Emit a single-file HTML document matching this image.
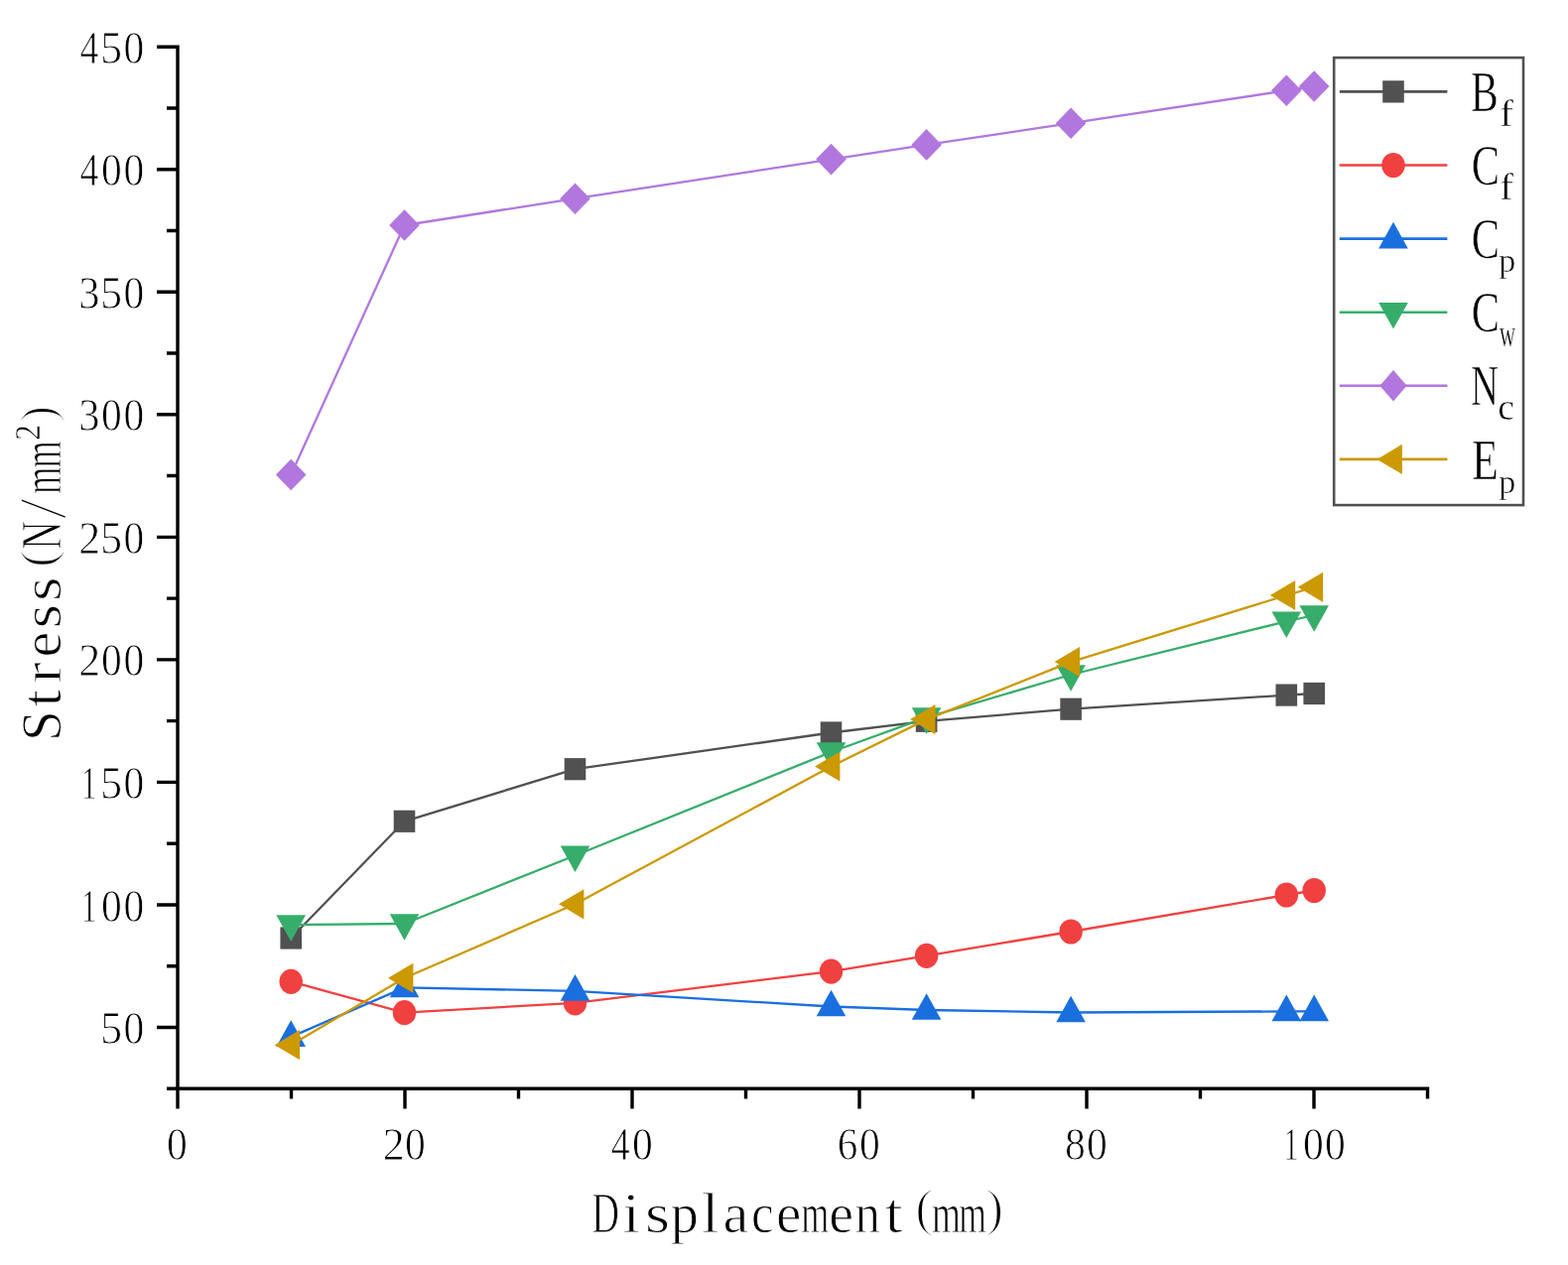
<!DOCTYPE html>
<html><head><meta charset="utf-8"><title>Stress vs Displacement</title>
<style>html,body{margin:0;padding:0;background:#fff;}svg{display:block;}text{font-family:"Liberation Serif","Noto Serif CJK SC",serif;fill:#000;stroke:#fff;stroke-width:1.0px;}text.d{stroke-width:0.8px;}text.L{stroke-width:0.6px;}tspan.s{stroke-width:0.5px;}tspan.p{stroke-width:1.7px;}</style>
</head><body>
<svg width="1580" height="1275" viewBox="0 0 1580 1275">
<rect x="0" y="0" width="1580" height="1275" fill="#fff"/>
<path d="M179 45.48V1117.57M168 1097.27H1440.2M158 1035.5H179M158 911.96H179M158 788.42H179M158 664.88H179M158 541.34H179M158 417.8H179M158 294.26H179M158 170.72H179M158 47.18H179M168 973.73H179M168 850.19H179M168 726.65H179M168 603.11H179M168 479.57H179M168 356.03H179M168 232.49H179M168 108.95H179M408 1097.27V1117.57M637 1097.27V1117.57M866 1097.27V1117.57M1095 1097.27V1117.57M1324 1097.27V1117.57M293.5 1097.27V1107.57M522.5 1097.27V1107.57M751.5 1097.27V1107.57M980.5 1097.27V1107.57M1209.5 1097.27V1107.57M1438.5 1097.27V1107.57" fill="none" stroke="#000" stroke-width="3.4" stroke-linecap="butt"/>
<text class="d"><tspan x="101.16" y="1052.1" font-size="45.5" textLength="21.85" lengthAdjust="spacingAndGlyphs">5</tspan><tspan x="124.62" y="1052.1" font-size="45.5" textLength="20.76" lengthAdjust="spacingAndGlyphs">0</tspan></text>
<text class="d"><tspan x="82.13" y="928.56" font-size="45.5" textLength="14.91" lengthAdjust="spacingAndGlyphs">1</tspan><tspan x="102.12" y="928.56" font-size="45.5" textLength="20.76" lengthAdjust="spacingAndGlyphs">0</tspan><tspan x="124.62" y="928.56" font-size="45.5" textLength="20.76" lengthAdjust="spacingAndGlyphs">0</tspan></text>
<text class="d"><tspan x="82.13" y="805.02" font-size="45.5" textLength="14.91" lengthAdjust="spacingAndGlyphs">1</tspan><tspan x="101.16" y="805.02" font-size="45.5" textLength="21.85" lengthAdjust="spacingAndGlyphs">5</tspan><tspan x="124.62" y="805.02" font-size="45.5" textLength="20.76" lengthAdjust="spacingAndGlyphs">0</tspan></text>
<text class="d"><tspan x="79.27" y="681.48" font-size="45.5" textLength="21.95" lengthAdjust="spacingAndGlyphs">2</tspan><tspan x="102.12" y="681.48" font-size="45.5" textLength="20.76" lengthAdjust="spacingAndGlyphs">0</tspan><tspan x="124.62" y="681.48" font-size="45.5" textLength="20.76" lengthAdjust="spacingAndGlyphs">0</tspan></text>
<text class="d"><tspan x="79.27" y="557.94" font-size="45.5" textLength="21.95" lengthAdjust="spacingAndGlyphs">2</tspan><tspan x="101.16" y="557.94" font-size="45.5" textLength="21.85" lengthAdjust="spacingAndGlyphs">5</tspan><tspan x="124.62" y="557.94" font-size="45.5" textLength="20.76" lengthAdjust="spacingAndGlyphs">0</tspan></text>
<text class="d"><tspan x="79.16" y="434.4" font-size="45.5" textLength="21.3" lengthAdjust="spacingAndGlyphs">3</tspan><tspan x="102.12" y="434.4" font-size="45.5" textLength="20.76" lengthAdjust="spacingAndGlyphs">0</tspan><tspan x="124.62" y="434.4" font-size="45.5" textLength="20.76" lengthAdjust="spacingAndGlyphs">0</tspan></text>
<text class="d"><tspan x="79.16" y="310.86" font-size="45.5" textLength="21.3" lengthAdjust="spacingAndGlyphs">3</tspan><tspan x="101.16" y="310.86" font-size="45.5" textLength="21.85" lengthAdjust="spacingAndGlyphs">5</tspan><tspan x="124.62" y="310.86" font-size="45.5" textLength="20.76" lengthAdjust="spacingAndGlyphs">0</tspan></text>
<text class="d"><tspan x="80.46" y="187.32" font-size="45.5" textLength="18.93" lengthAdjust="spacingAndGlyphs">4</tspan><tspan x="102.12" y="187.32" font-size="45.5" textLength="20.76" lengthAdjust="spacingAndGlyphs">0</tspan><tspan x="124.62" y="187.32" font-size="45.5" textLength="20.76" lengthAdjust="spacingAndGlyphs">0</tspan></text>
<text class="d"><tspan x="80.46" y="63.78" font-size="45.5" textLength="18.93" lengthAdjust="spacingAndGlyphs">4</tspan><tspan x="101.16" y="63.78" font-size="45.5" textLength="21.85" lengthAdjust="spacingAndGlyphs">5</tspan><tspan x="124.62" y="63.78" font-size="45.5" textLength="20.76" lengthAdjust="spacingAndGlyphs">0</tspan></text>
<text class="d"><tspan x="168.02" y="1169.3" font-size="45.5" textLength="20.76" lengthAdjust="spacingAndGlyphs">0</tspan></text>
<text class="d"><tspan x="385.67" y="1169.3" font-size="45.5" textLength="21.95" lengthAdjust="spacingAndGlyphs">2</tspan><tspan x="408.02" y="1169.3" font-size="45.5" textLength="20.76" lengthAdjust="spacingAndGlyphs">0</tspan></text>
<text class="d"><tspan x="615.86" y="1169.3" font-size="45.5" textLength="18.93" lengthAdjust="spacingAndGlyphs">4</tspan><tspan x="637.02" y="1169.3" font-size="45.5" textLength="20.76" lengthAdjust="spacingAndGlyphs">0</tspan></text>
<text class="d"><tspan x="843.83" y="1169.3" font-size="45.5" textLength="20.6" lengthAdjust="spacingAndGlyphs">6</tspan><tspan x="866.02" y="1169.3" font-size="45.5" textLength="20.76" lengthAdjust="spacingAndGlyphs">0</tspan></text>
<text class="d"><tspan x="1073.02" y="1169.3" font-size="45.5" textLength="20.76" lengthAdjust="spacingAndGlyphs">8</tspan><tspan x="1095.02" y="1169.3" font-size="45.5" textLength="20.76" lengthAdjust="spacingAndGlyphs">0</tspan></text>
<text class="d"><tspan x="1293.53" y="1169.3" font-size="45.5" textLength="14.91" lengthAdjust="spacingAndGlyphs">1</tspan><tspan x="1313.02" y="1169.3" font-size="45.5" textLength="20.76" lengthAdjust="spacingAndGlyphs">0</tspan><tspan x="1335.02" y="1169.3" font-size="45.5" textLength="20.76" lengthAdjust="spacingAndGlyphs">0</tspan></text>
<text><tspan x="596.14" y="1241.5" font-size="57.4" textLength="27.75" lengthAdjust="spacingAndGlyphs">D</tspan><tspan x="627.26" y="1241.5" font-size="57.4" textLength="17.86" lengthAdjust="spacingAndGlyphs">i</tspan><tspan x="650.03" y="1241.5" font-size="57.4" textLength="25.02" lengthAdjust="spacingAndGlyphs">s</tspan><tspan x="675.69" y="1241.5" font-size="57.4" textLength="28.21" lengthAdjust="spacingAndGlyphs">p</tspan><tspan x="706.67" y="1241.5" font-size="57.4" textLength="17.86" lengthAdjust="spacingAndGlyphs">l</tspan><tspan x="728.5" y="1241.5" font-size="57.4" textLength="25.84" lengthAdjust="spacingAndGlyphs">a</tspan><tspan x="756.95" y="1241.5" font-size="57.4" textLength="22.72" lengthAdjust="spacingAndGlyphs">c</tspan><tspan x="782.11" y="1241.5" font-size="57.4" textLength="25.42" lengthAdjust="spacingAndGlyphs">e</tspan><tspan x="807.24" y="1241.5" font-size="57.4" textLength="28.12" lengthAdjust="spacingAndGlyphs">m</tspan><tspan x="835.32" y="1241.5" font-size="57.4" textLength="24.82" lengthAdjust="spacingAndGlyphs">e</tspan><tspan x="861.38" y="1241.5" font-size="57.4" textLength="25.44" lengthAdjust="spacingAndGlyphs">n</tspan><tspan x="891.69" y="1241.5" font-size="57.4" textLength="17.86" lengthAdjust="spacingAndGlyphs">t</tspan><tspan class="p" x="921.97" y="1234.7" font-size="52.1" textLength="18.8" lengthAdjust="spacingAndGlyphs">(</tspan><tspan x="939.07" y="1241.5" font-size="57.4" textLength="28.96" lengthAdjust="spacingAndGlyphs">m</tspan><tspan x="966.21" y="1241.5" font-size="57.4" textLength="27.6" lengthAdjust="spacingAndGlyphs">m</tspan><tspan class="p" x="992.74" y="1234.7" font-size="52.1" textLength="18.67" lengthAdjust="spacingAndGlyphs">)</tspan></text>
<text transform="rotate(-90)"><tspan x="-747" y="61.3" font-size="56.3" textLength="30.72" lengthAdjust="spacingAndGlyphs">S</tspan><tspan x="-712.48" y="61.3" font-size="56.3" textLength="17.52" lengthAdjust="spacingAndGlyphs">t</tspan><tspan x="-688.45" y="61.3" font-size="56.3" textLength="21" lengthAdjust="spacingAndGlyphs">r</tspan><tspan x="-662.48" y="61.3" font-size="56.3" textLength="25.9" lengthAdjust="spacingAndGlyphs">e</tspan><tspan x="-633.62" y="61.3" font-size="56.3" textLength="24.54" lengthAdjust="spacingAndGlyphs">s</tspan><tspan x="-606.02" y="61.3" font-size="56.3" textLength="24.54" lengthAdjust="spacingAndGlyphs">s</tspan><tspan class="p" x="-572.19" y="54.9" font-size="50.2" textLength="18.72" lengthAdjust="spacingAndGlyphs">(</tspan><tspan x="-553.74" y="61.3" font-size="56.3" textLength="28.65" lengthAdjust="spacingAndGlyphs">N</tspan><tspan class="p" x="-523.18" y="65" font-size="68" textLength="21.16" lengthAdjust="spacingAndGlyphs">/</tspan><tspan x="-497.83" y="61.3" font-size="56.3" textLength="27.07" lengthAdjust="spacingAndGlyphs">m</tspan><tspan x="-471.43" y="61.3" font-size="56.3" textLength="27.07" lengthAdjust="spacingAndGlyphs">m</tspan><tspan class="s" x="-443.78" y="39.8" font-size="35" textLength="15.72" lengthAdjust="spacingAndGlyphs">2</tspan><tspan class="p" x="-426.02" y="54.9" font-size="50.2" textLength="17.24" lengthAdjust="spacingAndGlyphs">)</tspan></text>
<g>
<polyline points="293.2,945.5 407.5,827.8 579.5,775.2 837.5,738.5 933.6,726.8 1079.1,714.7 1296.3,700.6 1324.2,699" fill="none" stroke="#515151" stroke-width="2.3" stroke-linejoin="round"/>
<rect x="282.4" y="934.4" width="21.6" height="22.2" fill="#515151"/>
<rect x="396.7" y="816.7" width="21.6" height="22.2" fill="#515151"/>
<rect x="568.7" y="764.1" width="21.6" height="22.2" fill="#515151"/>
<rect x="826.7" y="727.4" width="21.6" height="22.2" fill="#515151"/>
<rect x="922.8" y="715.7" width="21.6" height="22.2" fill="#515151"/>
<rect x="1068.3" y="703.6" width="21.6" height="22.2" fill="#515151"/>
<rect x="1285.5" y="689.5" width="21.6" height="22.2" fill="#515151"/>
<rect x="1313.4" y="687.9" width="21.6" height="22.2" fill="#515151"/>
</g>
<g>
<polyline points="293.2,989.3 407.5,1020.7 579.5,1010.8 837.5,979.1 933.6,963.3 1079.1,939 1296.3,902 1324.2,897.5" fill="none" stroke="#F14040" stroke-width="2.3" stroke-linejoin="round"/>
<ellipse cx="293.2" cy="989.3" rx="11.7" ry="12.6" fill="#F14040"/>
<ellipse cx="407.5" cy="1020.7" rx="11.7" ry="12.6" fill="#F14040"/>
<ellipse cx="579.5" cy="1010.8" rx="11.7" ry="12.6" fill="#F14040"/>
<ellipse cx="837.5" cy="979.1" rx="11.7" ry="12.6" fill="#F14040"/>
<ellipse cx="933.6" cy="963.3" rx="11.7" ry="12.6" fill="#F14040"/>
<ellipse cx="1079.1" cy="939" rx="11.7" ry="12.6" fill="#F14040"/>
<ellipse cx="1296.3" cy="902" rx="11.7" ry="12.6" fill="#F14040"/>
<ellipse cx="1324.2" cy="897.5" rx="11.7" ry="12.6" fill="#F14040"/>
</g>
<g>
<polyline points="293.2,1045.1 407.5,995.4 579.5,998.9 837.5,1014.5 933.6,1018 1079.1,1020.5 1296.3,1019.4 1324.2,1019.4" fill="none" stroke="#1A6FDF" stroke-width="2.3" stroke-linejoin="round"/>
<path d="M293.2 1028.3L308 1054.9L278.4 1054.9Z" fill="#1A6FDF"/>
<path d="M407.5 978.6L422.3 1005.2L392.7 1005.2Z" fill="#1A6FDF"/>
<path d="M579.5 982.1L594.3 1008.7L564.7 1008.7Z" fill="#1A6FDF"/>
<path d="M837.5 997.7L852.3 1024.3L822.7 1024.3Z" fill="#1A6FDF"/>
<path d="M933.6 1001.2L948.4 1027.8L918.8 1027.8Z" fill="#1A6FDF"/>
<path d="M1079.1 1003.7L1093.9 1030.3L1064.3 1030.3Z" fill="#1A6FDF"/>
<path d="M1296.3 1002.6L1311.1 1029.2L1281.5 1029.2Z" fill="#1A6FDF"/>
<path d="M1324.2 1002.6L1339 1029.2L1309.4 1029.2Z" fill="#1A6FDF"/>
</g>
<g>
<polyline points="293.2,932.1 407.5,931 579.5,862.3 837.5,758 933.6,723.1 1079.1,680 1296.3,626.3 1324.2,620" fill="none" stroke="#37AD6B" stroke-width="2.3" stroke-linejoin="round"/>
<path d="M293.2 948.9L308 922.3L278.4 922.3Z" fill="#37AD6B"/>
<path d="M407.5 947.8L422.3 921.2L392.7 921.2Z" fill="#37AD6B"/>
<path d="M579.5 879.1L594.3 852.5L564.7 852.5Z" fill="#37AD6B"/>
<path d="M837.5 774.8L852.3 748.2L822.7 748.2Z" fill="#37AD6B"/>
<path d="M933.6 739.9L948.4 713.3L918.8 713.3Z" fill="#37AD6B"/>
<path d="M1079.1 696.8L1093.9 670.2L1064.3 670.2Z" fill="#37AD6B"/>
<path d="M1296.3 643.1L1311.1 616.5L1281.5 616.5Z" fill="#37AD6B"/>
<path d="M1324.2 636.8L1339 610.2L1309.4 610.2Z" fill="#37AD6B"/>
</g>
<g>
<polyline points="293.2,478.5 407.5,227 579.5,200.2 837.5,160.6 933.6,145.9 1079.1,124.2 1296.3,91.3 1324.2,87" fill="none" stroke="#B177DE" stroke-width="2.3" stroke-linejoin="round"/>
<path d="M293.2 462.7L308.5 478.5L293.2 494.3L277.9 478.5Z" fill="#B177DE"/>
<path d="M407.5 211.2L422.8 227L407.5 242.8L392.2 227Z" fill="#B177DE"/>
<path d="M579.5 184.4L594.8 200.2L579.5 216L564.2 200.2Z" fill="#B177DE"/>
<path d="M837.5 144.8L852.8 160.6L837.5 176.4L822.2 160.6Z" fill="#B177DE"/>
<path d="M933.6 130.1L948.9 145.9L933.6 161.7L918.3 145.9Z" fill="#B177DE"/>
<path d="M1079.1 108.4L1094.4 124.2L1079.1 140L1063.8 124.2Z" fill="#B177DE"/>
<path d="M1296.3 75.5L1311.6 91.3L1296.3 107.1L1281 91.3Z" fill="#B177DE"/>
<path d="M1324.2 71.2L1339.5 87L1324.2 102.8L1308.9 87Z" fill="#B177DE"/>
</g>
<g>
<polyline points="293.2,1053.2 407.5,985.8 579.5,911.3 837.5,772.5 933.6,725.1 1079.1,667.1 1296.3,600 1324.2,591.8" fill="none" stroke="#CC9900" stroke-width="2.3" stroke-linejoin="round"/>
<path d="M276.7 1053.2L302.1 1038.1L302.1 1068.3Z" fill="#CC9900"/>
<path d="M391 985.8L416.4 970.7L416.4 1000.9Z" fill="#CC9900"/>
<path d="M563 911.3L588.4 896.2L588.4 926.4Z" fill="#CC9900"/>
<path d="M821 772.5L846.4 757.4L846.4 787.6Z" fill="#CC9900"/>
<path d="M917.1 725.1L942.5 710L942.5 740.2Z" fill="#CC9900"/>
<path d="M1062.6 667.1L1088 652L1088 682.2Z" fill="#CC9900"/>
<path d="M1279.8 600L1305.2 584.9L1305.2 615.1Z" fill="#CC9900"/>
<path d="M1307.7 591.8L1333.1 576.7L1333.1 606.9Z" fill="#CC9900"/>
</g>
<rect x="1344.2" y="58.1" width="190.8" height="451" fill="none" stroke="#505050" stroke-width="2.6"/>
<path d="M1349.8 92.4H1458.4" stroke="#515151" stroke-width="2.6"/>
<rect x="1393.2" y="81.3" width="21.6" height="22.2" fill="#515151"/>
<text class="L"><tspan x="1482" y="112" font-size="57.5" textLength="27.73" lengthAdjust="spacingAndGlyphs">B</tspan><tspan class="s" x="1511.04" y="127" font-size="37.6" textLength="14.02" lengthAdjust="spacingAndGlyphs">f</tspan></text>
<path d="M1349.8 166.5H1458.4" stroke="#F14040" stroke-width="2.6"/>
<ellipse cx="1404" cy="166.5" rx="11.7" ry="12.6" fill="#F14040"/>
<text class="L"><tspan x="1482.76" y="186.1" font-size="57.5" textLength="28.28" lengthAdjust="spacingAndGlyphs">C</tspan><tspan class="s" x="1511.04" y="201.1" font-size="37.6" textLength="14.02" lengthAdjust="spacingAndGlyphs">f</tspan></text>
<path d="M1349.8 240.6H1458.4" stroke="#1A6FDF" stroke-width="2.6"/>
<path d="M1404 223.8L1418.8 250.4L1389.2 250.4Z" fill="#1A6FDF"/>
<text class="L"><tspan x="1482.76" y="260.2" font-size="57.5" textLength="28.28" lengthAdjust="spacingAndGlyphs">C</tspan><tspan class="s" x="1510.25" y="274.2" font-size="34" textLength="17.09" lengthAdjust="spacingAndGlyphs">p</tspan></text>
<path d="M1349.8 314.7H1458.4" stroke="#37AD6B" stroke-width="2.6"/>
<path d="M1404 331.5L1418.8 304.9L1389.2 304.9Z" fill="#37AD6B"/>
<text class="L"><tspan x="1482.76" y="334.3" font-size="57.5" textLength="28.28" lengthAdjust="spacingAndGlyphs">C</tspan><tspan class="s" x="1510.78" y="349.3" font-size="38" textLength="16.42" lengthAdjust="spacingAndGlyphs">w</tspan></text>
<path d="M1349.8 388.8H1458.4" stroke="#B177DE" stroke-width="2.6"/>
<path d="M1404 373L1417.6 388.8L1404 404.6L1390.4 388.8Z" fill="#B177DE"/>
<text class="L"><tspan x="1481.88" y="408.4" font-size="57.5" textLength="28.01" lengthAdjust="spacingAndGlyphs">N</tspan><tspan class="s" x="1509.37" y="423.4" font-size="38" textLength="16.69" lengthAdjust="spacingAndGlyphs">c</tspan></text>
<path d="M1349.8 462.9H1458.4" stroke="#CC9900" stroke-width="2.6"/>
<path d="M1387.5 462.9L1412.9 447.8L1412.9 478Z" fill="#CC9900"/>
<text class="L"><tspan x="1483.03" y="482.5" font-size="57.5" textLength="26.86" lengthAdjust="spacingAndGlyphs">E</tspan><tspan class="s" x="1510.25" y="496.5" font-size="34" textLength="17.09" lengthAdjust="spacingAndGlyphs">p</tspan></text>
</svg>
</body></html>
